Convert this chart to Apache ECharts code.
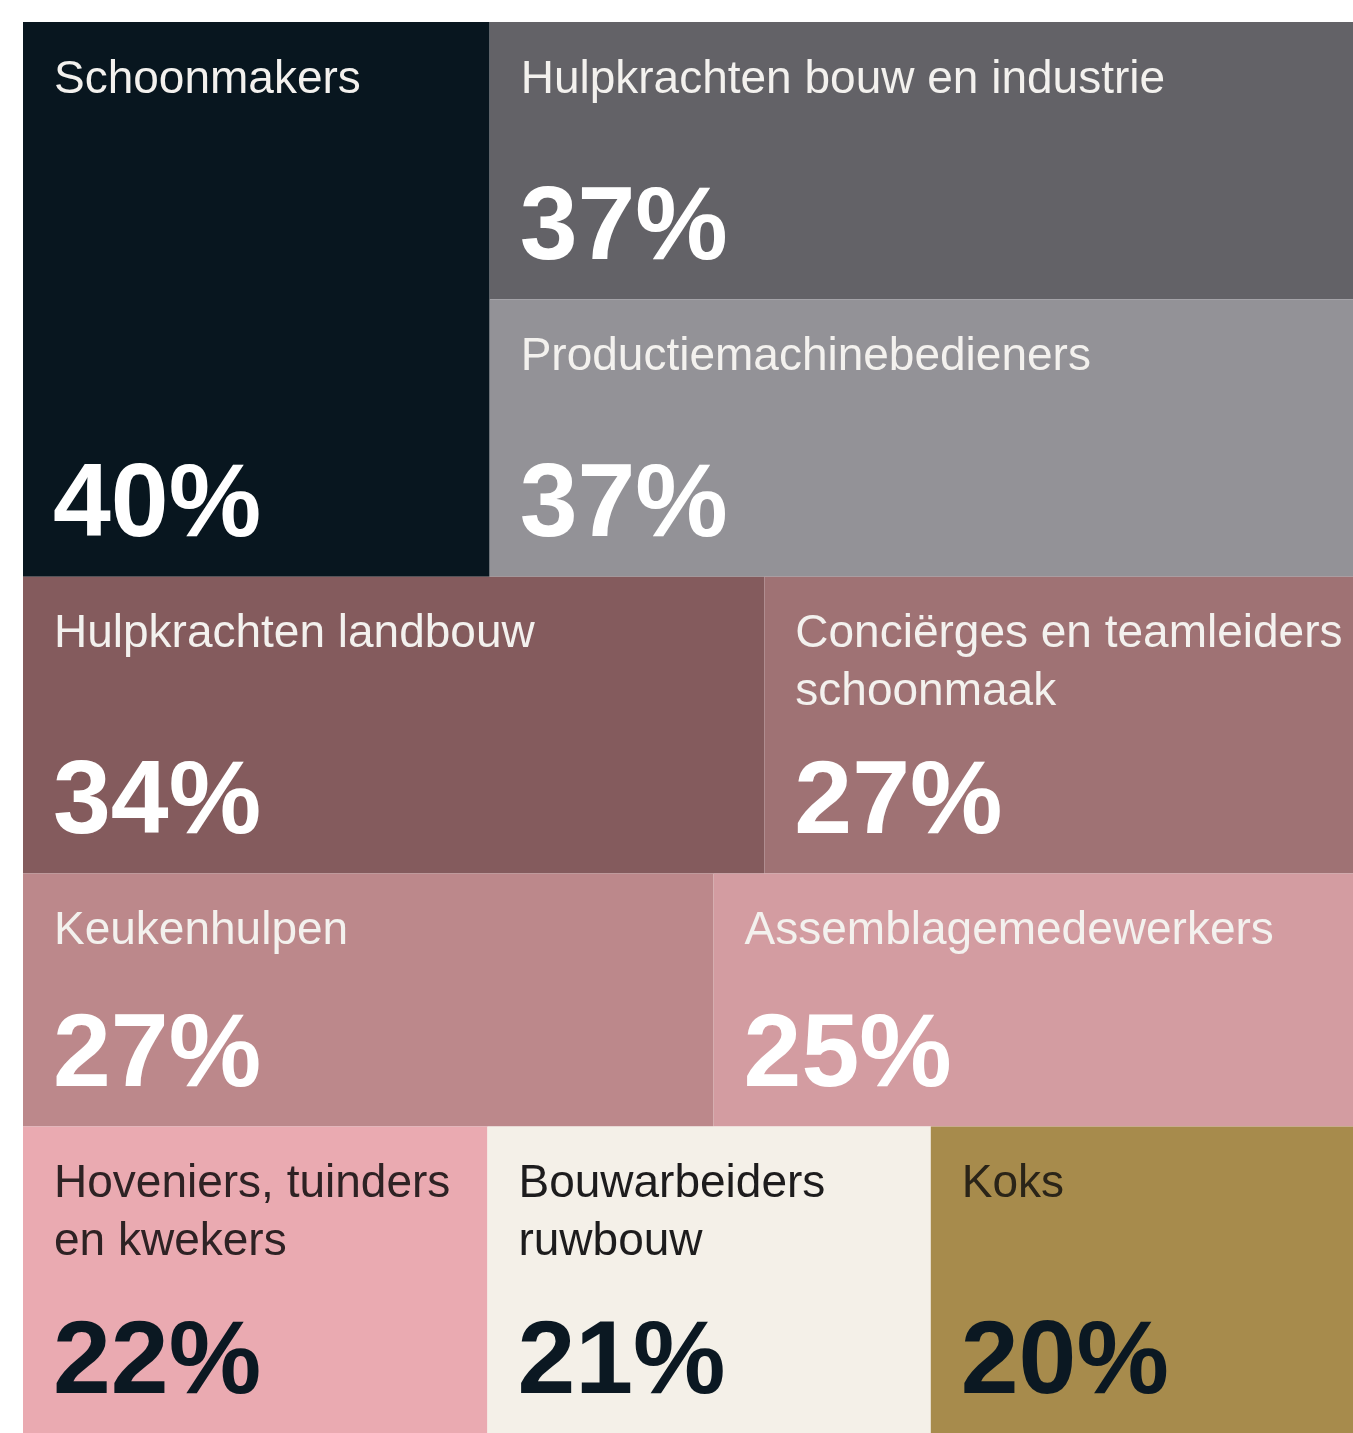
<!DOCTYPE html>
<html><head><meta charset="utf-8">
<script src="https://cdn.jsdelivr.net/npm/echarts@6/dist/echarts.min.js"></script>
<style>html,body{margin:0;padding:0;background:#fff}#c{width:1353px;height:1433px}</style>
</head><body><div id="c"></div>
<script>
// ---- data ----
const categories = [
  'Schoonmakers',
  'Hulpkrachten bouw en industrie',
  'Productiemachinebedieners',
  'Hulpkrachten landbouw',
  'Conciërges en teamleiders\nschoonmaak',
  'Keukenhulpen',
  'Assemblagemedewerkers',
  'Hoveniers, tuinders\nen kwekers',
  'Bouwarbeiders\nruwbouw',
  'Koks'
];
const values = [40, 37, 37, 34, 27, 27, 25, 22, 21, 20];
// grouping of categories into rows (a nested list = stacked vertically in one column)
const rows = [[0, [1, 2]], [3, 4], [5, 6], [7, 8, 9]];
// ---- styles ----
const colors = ['#08161f', '#636267', '#939297', '#845b5d', '#9f7274', '#bc888b', '#d39ca1', '#eaaab1', '#f4f0e8', '#a78b4c'];
const nameColors = ['#f3f1ee', '#f3f1ee', '#f3f1ee', '#f3f1ee', '#f3f1ee', '#f3f1ee', '#f3f1ee', '#2e2224', '#1d1c1d', '#2a2418'];
const pctColors = ['#ffffff', '#ffffff', '#ffffff', '#ffffff', '#ffffff', '#ffffff', '#ffffff', '#0b1822', '#0b1822', '#0b1822'];

// ---- layout: row heights proportional to row totals, widths proportional to values ----
function groupSum(it) { return Array.isArray(it) ? it.reduce((s, i) => s + values[i], 0) : values[it]; }
const total = values.reduce((a, b) => a + b, 0);
const rects = [];
let yCur = 0;
rows.forEach(row => {
  const rs = row.reduce((s, it) => s + groupSum(it), 0);
  const h = rs / total;
  let xCur = 0;
  row.forEach(it => {
    const w = groupSum(it) / rs;
    if (Array.isArray(it)) {
      let yy = yCur;
      const gs = groupSum(it);
      it.forEach(i => { const hh = h * values[i] / gs; rects[i] = [xCur, yy, xCur + w, yy + hh]; yy += hh; });
    } else {
      rects[it] = [xCur, yCur, xCur + w, yCur + h];
    }
    xCur += w;
  });
  yCur += h;
});
const seriesData = values.map((v, i) => rects[i].concat([v]));

const chart = echarts.init(document.getElementById('c'), null, { renderer: 'canvas' });
chart.setOption({
  backgroundColor: '#ffffff',
  animation: false,
  grid: { left: 23, top: 22, right: 0, bottom: 0 },
  xAxis: { type: 'value', min: 0, max: 1, show: false },
  yAxis: { type: 'value', min: 0, max: 1, inverse: true, show: false },
  series: [{
    type: 'custom',
    data: seriesData,
    encode: { x: [0, 2], y: [1, 3] },
    renderItem: function (params, api) {
      const i = params.dataIndex;
      const p0 = api.coord([api.value(0), api.value(1)]);
      const p1 = api.coord([api.value(2), api.value(3)]);
      const x = Math.min(p0[0], p1[0]), y = Math.min(p0[1], p1[1]);
      const w = Math.abs(p1[0] - p0[0]), h = Math.abs(p1[1] - p0[1]);
      return {
        type: 'group',
        children: [
          { type: 'rect', shape: { x: x, y: y, width: w, height: h }, style: { fill: colors[i] } },
          { type: 'text', x: x + 31, y: y + 29, style: {
              text: categories[i], fill: nameColors[i], fontSize: 46, fontFamily: '"Liberation Sans", Arial, sans-serif',
              verticalAlign: 'top', align: 'left', lineHeight: 58 } },
          { type: 'text', x: x + 30, y: y + h - 17, style: {
              text: api.value(4) + '%', fill: pctColors[i], fontSize: 104, fontWeight: 'bold',
              fontFamily: '"Liberation Sans", Arial, sans-serif', verticalAlign: 'bottom', align: 'left' } }
        ]
      };
    }
  }]
});
</script>
</body></html>
